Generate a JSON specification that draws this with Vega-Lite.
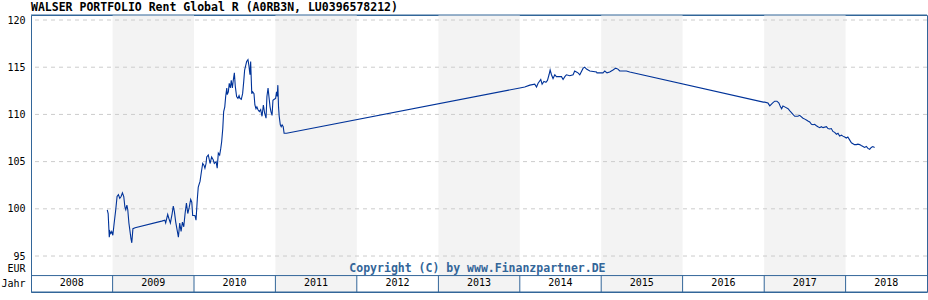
{
  "$schema": "https://vega.github.io/schema/vega-lite/v6.json",
  "width": 896,
  "height": 277,
  "autosize": "none",
  "padding": {"left": 31, "top": 15, "right": 1, "bottom": 8},
  "background": "white",
  "title": {
    "text": "WALSER PORTFOLIO Rent Global R (A0RB3N, LU0396578212)",
    "anchor": "start",
    "frame": "group",
    "font": "DejaVu Sans Mono",
    "fontSize": 11.5,
    "fontWeight": "bold",
    "color": "#000000",
    "baseline": "alphabetic",
    "offset": 2,
    "dy": 10
  },
  "config": {
    "view": {"stroke": "#336699", "strokeWidth": 1},
    "axis": {"labelFont": "DejaVu Sans Mono", "labelFontSize": 10, "labelColor": "#000000", "labelOverlap": false, "labelFlush": false, "labelBound": false}
  },
  "datasets": {
    "years": [
      {"year": "2008", "start": "2008-01-01", "end": "2009-01-01", "mid": "2008-07-02"},
      {"year": "2009", "start": "2009-01-01", "end": "2010-01-01", "mid": "2009-07-02"},
      {"year": "2010", "start": "2010-01-01", "end": "2011-01-01", "mid": "2010-07-02"},
      {"year": "2011", "start": "2011-01-01", "end": "2012-01-01", "mid": "2011-07-02"},
      {"year": "2012", "start": "2012-01-01", "end": "2013-01-01", "mid": "2012-07-02"},
      {"year": "2013", "start": "2013-01-01", "end": "2014-01-01", "mid": "2013-07-02"},
      {"year": "2014", "start": "2014-01-01", "end": "2015-01-01", "mid": "2014-07-02"},
      {"year": "2015", "start": "2015-01-01", "end": "2016-01-01", "mid": "2015-07-02"},
      {"year": "2016", "start": "2016-01-01", "end": "2017-01-01", "mid": "2016-07-02"},
      {"year": "2017", "start": "2017-01-01", "end": "2018-01-01", "mid": "2017-07-02"},
      {"year": "2018", "start": "2018-01-01", "end": "2019-01-01", "mid": "2018-07-02"}
    ],
    "grid": [{"v": 95}, {"v": 100}, {"v": 105}, {"v": 110}, {"v": 115}, {"v": 120}],
    "frame": [{"edge": 91.19}, {"edge": 120.53}],
    "prices": [
      {"date": "2008-12-08", "price": 99.9},
      {"date": "2008-12-12", "price": 99.5},
      {"date": "2008-12-17", "price": 97.0},
      {"date": "2008-12-20", "price": 97.6},
      {"date": "2008-12-24", "price": 97.4},
      {"date": "2008-12-28", "price": 97.6},
      {"date": "2009-01-02", "price": 97.2},
      {"date": "2009-01-08", "price": 98.5},
      {"date": "2009-01-15", "price": 99.9},
      {"date": "2009-01-21", "price": 101.3},
      {"date": "2009-01-27", "price": 101.5},
      {"date": "2009-02-02", "price": 101.1},
      {"date": "2009-02-08", "price": 101.3},
      {"date": "2009-02-14", "price": 101.7},
      {"date": "2009-02-20", "price": 101.3},
      {"date": "2009-02-25", "price": 100.2},
      {"date": "2009-03-01", "price": 99.9},
      {"date": "2009-03-06", "price": 100.4},
      {"date": "2009-03-10", "price": 99.9},
      {"date": "2009-03-15", "price": 98.5},
      {"date": "2009-03-19", "price": 97.8},
      {"date": "2009-03-24", "price": 96.9},
      {"date": "2009-03-28", "price": 96.4},
      {"date": "2009-04-02", "price": 97.9},
      {"date": "2009-04-12", "price": 98.0},
      {"date": "2009-08-09", "price": 98.7},
      {"date": "2009-08-23", "price": 98.8},
      {"date": "2009-08-27", "price": 98.5},
      {"date": "2009-09-05", "price": 99.4},
      {"date": "2009-09-10", "price": 99.0},
      {"date": "2009-09-17", "price": 98.5},
      {"date": "2009-09-25", "price": 99.5},
      {"date": "2009-09-30", "price": 100.3},
      {"date": "2009-10-05", "price": 99.7},
      {"date": "2009-10-11", "price": 98.6},
      {"date": "2009-10-17", "price": 97.8},
      {"date": "2009-10-23", "price": 97.0},
      {"date": "2009-10-29", "price": 98.5},
      {"date": "2009-11-04", "price": 97.6},
      {"date": "2009-11-10", "price": 98.6},
      {"date": "2009-11-16", "price": 98.1},
      {"date": "2009-11-22", "price": 99.5},
      {"date": "2009-11-28", "price": 100.6},
      {"date": "2009-12-04", "price": 99.5},
      {"date": "2009-12-10", "price": 100.1},
      {"date": "2009-12-17", "price": 101.0},
      {"date": "2009-12-22", "price": 100.7},
      {"date": "2009-12-26", "price": 99.3},
      {"date": "2010-01-05", "price": 99.3},
      {"date": "2010-01-10", "price": 98.8},
      {"date": "2010-01-16", "price": 101.1},
      {"date": "2010-01-20", "price": 102.3},
      {"date": "2010-01-28", "price": 102.9},
      {"date": "2010-02-03", "price": 103.9},
      {"date": "2010-02-09", "price": 104.8},
      {"date": "2010-02-15", "price": 104.6},
      {"date": "2010-02-19", "price": 104.3},
      {"date": "2010-02-24", "price": 104.8},
      {"date": "2010-02-27", "price": 105.5},
      {"date": "2010-03-06", "price": 105.7},
      {"date": "2010-03-14", "price": 104.8},
      {"date": "2010-03-21", "price": 105.5},
      {"date": "2010-03-28", "price": 105.2},
      {"date": "2010-04-02", "price": 104.8},
      {"date": "2010-04-10", "price": 105.0},
      {"date": "2010-04-15", "price": 104.3},
      {"date": "2010-04-20", "price": 105.9},
      {"date": "2010-04-26", "price": 105.7},
      {"date": "2010-05-01", "price": 106.4},
      {"date": "2010-05-05", "price": 107.1},
      {"date": "2010-05-10", "price": 108.5},
      {"date": "2010-05-14", "price": 110.3},
      {"date": "2010-05-19", "price": 110.8},
      {"date": "2010-05-23", "price": 111.9},
      {"date": "2010-05-28", "price": 112.8},
      {"date": "2010-05-30", "price": 112.1},
      {"date": "2010-06-04", "price": 112.4},
      {"date": "2010-06-08", "price": 113.3},
      {"date": "2010-06-13", "price": 112.8},
      {"date": "2010-06-17", "price": 113.6},
      {"date": "2010-06-22", "price": 112.8},
      {"date": "2010-06-26", "price": 113.6},
      {"date": "2010-07-01", "price": 114.4},
      {"date": "2010-07-05", "price": 113.0},
      {"date": "2010-07-11", "price": 111.9},
      {"date": "2010-07-17", "price": 111.7},
      {"date": "2010-07-22", "price": 112.0},
      {"date": "2010-07-26", "price": 111.7},
      {"date": "2010-08-01", "price": 111.6},
      {"date": "2010-08-07", "price": 112.2},
      {"date": "2010-08-12", "price": 113.5},
      {"date": "2010-08-16", "price": 114.7},
      {"date": "2010-08-21", "price": 115.2},
      {"date": "2010-08-25", "price": 115.6},
      {"date": "2010-08-31", "price": 115.8},
      {"date": "2010-09-04", "price": 115.2},
      {"date": "2010-09-09", "price": 114.2},
      {"date": "2010-09-12", "price": 115.6},
      {"date": "2010-09-17", "price": 112.2},
      {"date": "2010-09-21", "price": 112.4},
      {"date": "2010-09-27", "price": 112.2},
      {"date": "2010-10-01", "price": 111.0},
      {"date": "2010-10-06", "price": 110.6},
      {"date": "2010-10-10", "price": 110.8},
      {"date": "2010-10-15", "price": 110.5},
      {"date": "2010-10-21", "price": 110.3},
      {"date": "2010-10-27", "price": 110.5},
      {"date": "2010-11-02", "price": 109.8},
      {"date": "2010-11-08", "price": 111.0},
      {"date": "2010-11-14", "price": 110.1},
      {"date": "2010-11-20", "price": 109.6},
      {"date": "2010-11-24", "price": 111.9},
      {"date": "2010-11-29", "price": 112.8},
      {"date": "2010-12-03", "price": 111.9},
      {"date": "2010-12-08", "price": 110.8},
      {"date": "2010-12-12", "price": 110.3},
      {"date": "2010-12-17", "price": 109.9},
      {"date": "2010-12-21", "price": 111.5},
      {"date": "2010-12-27", "price": 111.6},
      {"date": "2011-01-02", "price": 111.7},
      {"date": "2011-01-06", "price": 112.4},
      {"date": "2011-01-09", "price": 111.9},
      {"date": "2011-01-12", "price": 113.1},
      {"date": "2011-01-15", "price": 110.8},
      {"date": "2011-01-18", "price": 109.8},
      {"date": "2011-01-23", "price": 108.9},
      {"date": "2011-01-27", "price": 108.7},
      {"date": "2011-01-31", "price": 108.9},
      {"date": "2011-02-05", "price": 108.7},
      {"date": "2011-02-09", "price": 108.0},
      {"date": "2011-02-20", "price": 108.0},
      {"date": "2014-01-01", "price": 112.8},
      {"date": "2014-01-23", "price": 112.9},
      {"date": "2014-02-15", "price": 113.1},
      {"date": "2014-03-09", "price": 113.2},
      {"date": "2014-03-17", "price": 112.9},
      {"date": "2014-03-24", "price": 113.3},
      {"date": "2014-04-05", "price": 113.7},
      {"date": "2014-04-11", "price": 113.2},
      {"date": "2014-04-19", "price": 113.5},
      {"date": "2014-04-28", "price": 113.4},
      {"date": "2014-05-05", "price": 113.6},
      {"date": "2014-05-12", "price": 114.2},
      {"date": "2014-05-17", "price": 114.7},
      {"date": "2014-05-23", "price": 114.2},
      {"date": "2014-05-30", "price": 113.8},
      {"date": "2014-06-07", "price": 114.2},
      {"date": "2014-06-14", "price": 114.0},
      {"date": "2014-07-07", "price": 114.0},
      {"date": "2014-07-14", "price": 113.7},
      {"date": "2014-07-22", "price": 114.0},
      {"date": "2014-07-29", "price": 114.2},
      {"date": "2014-08-13", "price": 114.1},
      {"date": "2014-08-28", "price": 114.2},
      {"date": "2014-09-04", "price": 114.6},
      {"date": "2014-09-12", "price": 114.5},
      {"date": "2014-09-19", "price": 114.4},
      {"date": "2014-09-27", "price": 114.2},
      {"date": "2014-10-12", "price": 114.9},
      {"date": "2014-10-19", "price": 115.0},
      {"date": "2014-10-27", "price": 114.8},
      {"date": "2014-11-11", "price": 114.6},
      {"date": "2014-12-11", "price": 114.5},
      {"date": "2014-12-13", "price": 114.4},
      {"date": "2015-01-09", "price": 114.4},
      {"date": "2015-01-17", "price": 114.6},
      {"date": "2015-01-27", "price": 114.4},
      {"date": "2015-02-08", "price": 114.5},
      {"date": "2015-02-23", "price": 114.7},
      {"date": "2015-03-07", "price": 114.9},
      {"date": "2015-03-17", "price": 114.8},
      {"date": "2015-03-25", "price": 114.6},
      {"date": "2015-04-24", "price": 114.6},
      {"date": "2015-05-09", "price": 114.5},
      {"date": "2016-12-28", "price": 111.3},
      {"date": "2017-01-03", "price": 111.3},
      {"date": "2017-01-18", "price": 111.2},
      {"date": "2017-01-26", "price": 110.9},
      {"date": "2017-02-07", "price": 111.2},
      {"date": "2017-02-17", "price": 111.4},
      {"date": "2017-02-27", "price": 111.4},
      {"date": "2017-03-08", "price": 111.2},
      {"date": "2017-03-15", "price": 110.8},
      {"date": "2017-03-20", "price": 110.6},
      {"date": "2017-03-26", "price": 110.9},
      {"date": "2017-04-03", "price": 110.8},
      {"date": "2017-04-18", "price": 110.6},
      {"date": "2017-04-25", "price": 110.4},
      {"date": "2017-05-03", "price": 110.2},
      {"date": "2017-05-10", "price": 110.0},
      {"date": "2017-05-18", "price": 109.8},
      {"date": "2017-06-01", "price": 109.8},
      {"date": "2017-06-09", "price": 109.9},
      {"date": "2017-06-24", "price": 109.6},
      {"date": "2017-07-02", "price": 109.5},
      {"date": "2017-07-09", "price": 109.4},
      {"date": "2017-07-16", "price": 109.3},
      {"date": "2017-07-24", "price": 109.2},
      {"date": "2017-08-01", "price": 108.95},
      {"date": "2017-08-08", "price": 108.9},
      {"date": "2017-08-15", "price": 108.95},
      {"date": "2017-08-23", "price": 108.8},
      {"date": "2017-08-30", "price": 108.7},
      {"date": "2017-09-07", "price": 108.6},
      {"date": "2017-09-14", "price": 108.7},
      {"date": "2017-09-22", "price": 108.6},
      {"date": "2017-10-07", "price": 108.7},
      {"date": "2017-10-14", "price": 108.5},
      {"date": "2017-10-22", "price": 108.45},
      {"date": "2017-10-29", "price": 108.5},
      {"date": "2017-11-05", "price": 108.2},
      {"date": "2017-11-13", "price": 108.1},
      {"date": "2017-11-21", "price": 107.9},
      {"date": "2017-11-28", "price": 108.0},
      {"date": "2017-12-05", "price": 107.7},
      {"date": "2017-12-13", "price": 107.8},
      {"date": "2017-12-20", "price": 107.7},
      {"date": "2017-12-28", "price": 107.6},
      {"date": "2018-01-04", "price": 107.5},
      {"date": "2018-01-11", "price": 107.6},
      {"date": "2018-01-19", "price": 107.3},
      {"date": "2018-01-27", "price": 107.0},
      {"date": "2018-02-03", "price": 106.9},
      {"date": "2018-02-10", "price": 106.8},
      {"date": "2018-02-18", "price": 106.8},
      {"date": "2018-02-25", "price": 106.85},
      {"date": "2018-03-05", "price": 106.8},
      {"date": "2018-03-12", "price": 106.7},
      {"date": "2018-03-20", "price": 106.6},
      {"date": "2018-03-27", "price": 106.5},
      {"date": "2018-04-04", "price": 106.6},
      {"date": "2018-04-11", "price": 106.4},
      {"date": "2018-04-19", "price": 106.3},
      {"date": "2018-04-26", "price": 106.5},
      {"date": "2018-05-03", "price": 106.6},
      {"date": "2018-05-11", "price": 106.5}
    ]
  },
  "layer": [
    {
      "data": {"name": "years"},
      "transform": [{"filter": "toNumber(datum.year) % 2 == 1"}],
      "mark": {"type": "rect", "color": "#f3f3f3"},
      "encoding": {
        "x": {"field": "start", "type": "temporal", "axis": null,
              "scale": {"type": "utc", "domain": [{"year": 2008, "month": 1, "date": 1, "utc": true}, {"year": 2019, "month": 1, "date": 1, "utc": true}]}},
        "x2": {"field": "end"}
      }
    },
    {
      "data": {"name": "grid"},
      "mark": {"type": "rule", "color": "#cccccc", "strokeDash": [4, 4], "strokeWidth": 1},
      "encoding": {
        "y": {"field": "v", "type": "quantitative",
              "scale": {"domain": [91.19, 120.53], "nice": false, "zero": false},
              "axis": {"values": [92.1, 93.7, 95, 100, 105, 110, 115, 120], "tickCount": 20,
                       "labelExpr": "datum.value < 93 ? 'Jahr' : datum.value < 94 ? 'EUR' : datum.label",
                       "title": null, "grid": false, "ticks": false, "domain": false, "labelPadding": 6,
                       "labelBaseline": "middle", "labelOverlap": false, "labelFlush": false, "labelBound": false}}
      }
    },
    {
      "data": {"name": "frame"},
      "mark": {"type": "rule", "color": "#336699", "strokeWidth": 1},
      "encoding": {"y": {"field": "edge", "type": "quantitative"}}
    },
    {
      "data": {"values": [{}]},
      "mark": {"type": "rule", "color": "#336699", "strokeWidth": 1},
      "encoding": {"y": {"datum": 92.93, "type": "quantitative"}}
    },
    {
      "data": {"name": "years"},
      "transform": [{"filter": "toNumber(datum.year) > 2008"}],
      "mark": {"type": "rule", "color": "#336699", "strokeWidth": 1},
      "encoding": {
        "x": {"field": "start", "type": "temporal", "axis": null},
        "y": {"datum": 91.19, "type": "quantitative"},
        "y2": {"datum": 92.93}
      }
    },
    {
      "data": {"name": "years"},
      "mark": {"type": "text", "font": "DejaVu Sans Mono", "fontSize": 10, "color": "#000000", "baseline": "middle", "align": "center"},
      "encoding": {
        "x": {"field": "mid", "type": "temporal", "axis": null},
        "y": {"datum": 92.1, "type": "quantitative"},
        "text": {"field": "year", "type": "nominal"}
      }
    },
    {
      "data": {"values": [{"note": "Copyright (C) by www.Finanzpartner.DE"}]},
      "mark": {"type": "text", "font": "DejaVu Sans Mono", "fontSize": 11.5, "fontWeight": "bold", "color": "#336699", "baseline": "alphabetic", "align": "center"},
      "encoding": {
        "x": {"datum": {"year": 2013, "month": 6, "date": 25, "utc": true}, "type": "temporal", "axis": null},
        "y": {"datum": 93.3, "type": "quantitative"},
        "text": {"field": "note", "type": "nominal"}
      }
    },
    {
      "data": {"name": "prices"},
      "mark": {"type": "line", "color": "#003399", "strokeWidth": 1.1, "interpolate": "linear"},
      "encoding": {
        "x": {"field": "date", "type": "temporal", "axis": null},
        "y": {"field": "price", "type": "quantitative"}
      }
    }
  ]
}
